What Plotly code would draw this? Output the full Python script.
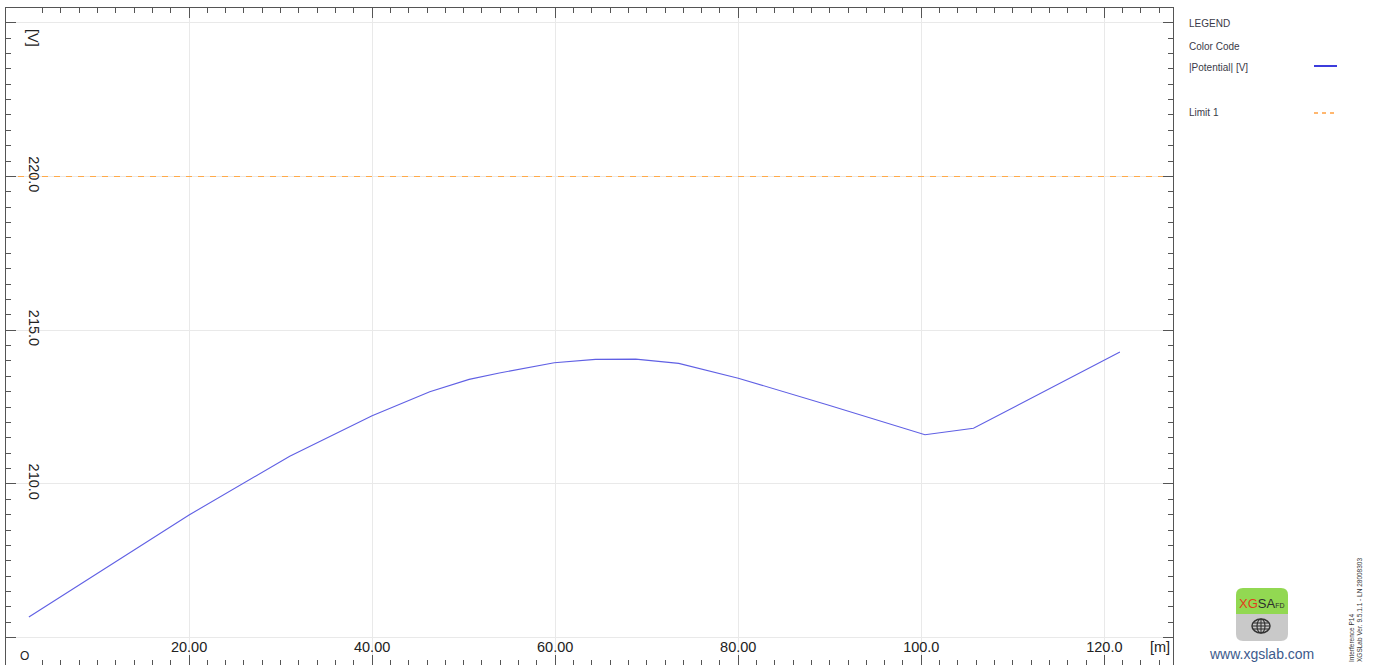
import plotly.graph_objects as go

# |Potential| profile along the path
distance_m = [2.5, 20.0, 31.0, 40.0, 46.3, 50.6, 53.9, 59.9, 64.4, 68.8, 73.5,
              80.0, 89.9, 100.4, 105.7, 121.7]
potential_v = [205.67, 208.99, 210.90, 212.22, 213.00, 213.40, 213.61, 213.94,
               214.05, 214.06, 213.92, 213.44, 212.56, 211.60, 211.81, 214.29]

limit_v = 220.0

x_tick_vals = [20, 40, 60, 80, 100, 120]
x_tick_text = ["20.00", "40.00", "60.00", "80.00", "100.0", "120.0"]
y_tick_vals = [205, 210, 215, 220, 225]
y_tick_text = ["", "210.0", "215.0", "220.0", ""]

W, H = 1373, 665
L, R, T, B = 6, 200, 8, 0
PW, PH = W - L - R, H - T - B


def px(x):
    return (x - L) / PW


def py(y):
    return (H - B - y) / PH


FRAME = "#555555"
GRID = "#e9e9e9"
TXT = "#3a3a48"
FONT = "Liberation Sans"

fig = go.Figure()
fig.add_trace(go.Scatter(x=distance_m, y=potential_v, mode="lines",
                         line=dict(color="#6060e4", width=1.1),
                         hoverinfo="x+y", showlegend=False))
fig.add_trace(go.Scatter(x=[0, 127.5], y=[limit_v, limit_v], mode="lines",
                         line=dict(color="#ffaa4a", width=1.2, dash="6px,6px"),
                         showlegend=False))

axis_common = dict(showline=True, linecolor=FRAME, linewidth=1, mirror="allticks",
                   ticks="inside", tickcolor=FRAME, tickwidth=1,
                   showgrid=True, gridcolor=GRID, gridwidth=1, zeroline=False,
                   ticklabelposition="inside",
                   tickfont=dict(family=FONT, size=14.5, color="#222222"))

fig.update_xaxes(range=[0, 127.5], tickmode="array", tickvals=x_tick_vals,
                 ticktext=x_tick_text, ticklen=10,
                 minor=dict(dtick=2, ticks="inside", ticklen=5, tickcolor=FRAME,
                            showgrid=False),
                 **axis_common)
fig.update_yaxes(range=[204.11, 225.48], tickmode="array", tickvals=y_tick_vals,
                 ticktext=y_tick_text, ticklen=10, tickangle=90,
                 ticklabelstandoff=10,
                 minor=dict(dtick=0.5, ticks="inside", ticklen=5, tickcolor=FRAME,
                            showgrid=False),
                 **axis_common)

ann = []
# axis units
ann.append(dict(text="[V]", x=px(33), y=py(38), textangle=90,
                font=dict(family=FONT, size=14.5, color="#222222")))
ann.append(dict(text="[m]", x=px(1160), y=py(647),
                font=dict(family=FONT, size=14.5, color="#222222")))
ann.append(dict(text="O", x=px(24), y=py(665), yanchor="bottom",
                font=dict(family=FONT, size=12, color="#222222")))

# legend panel
for txt, yy in [("LEGEND", 23), ("Color Code", 46), ("|Potential| [V]", 67),
                ("Limit 1", 112)]:
    ann.append(dict(text=txt, x=px(1187), y=py(yy), xanchor="left",
                    font=dict(family=FONT, size=10, color=TXT)))

# logo caption and version stamp
ann.append(dict(text="<span style='color:#e23c1c'>XG</span>"
                     "<span style='color:#2e2e2e'>SA</span>"
                     "<span style='color:#2e2e2e;font-size:7px'>FD</span>",
                x=px(1261), y=py(603), font=dict(family=FONT, size=13)))
ann.append(dict(text="www.xgslab.com", x=px(1261), y=py(654),
                font=dict(family=FONT, size=14, color="#3c5a8c")))
ann.append(dict(text="Interference P14<br>XGSLab Ver. 9.5.1.1 - LN 28008303",
                x=px(1355), y=py(664), yanchor="bottom", align="left",
                textangle=-90,
                font=dict(family=FONT, size=6.5, color="#333333")))

for a in ann:
    a.setdefault("xref", "paper")
    a.setdefault("yref", "paper")
    a.setdefault("showarrow", False)
    a.setdefault("xanchor", "center")
    a.setdefault("yanchor", "middle")

shapes = []
# legend line samples
shapes.append(dict(type="line", xref="paper", yref="paper",
                   x0=px(1314), x1=px(1337), y0=py(66), y1=py(66),
                   line=dict(color="#3c3cdc", width=2)))
shapes.append(dict(type="line", xref="paper", yref="paper",
                   x0=px(1314), x1=px(1337), y0=py(113), y1=py(113),
                   line=dict(color="#ffa040", width=1.5, dash="4px,4px")))


def rounded_half(x0, x1, y0, y1, r, top):
    # rounded corners only on the outer side of each half of the badge
    if top:
        pts = (f"M{px(x0)},{py(y1)} L{px(x0)},{py(y0 + r)} "
               f"Q{px(x0)},{py(y0)} {px(x0 + r)},{py(y0)} "
               f"L{px(x1 - r)},{py(y0)} Q{px(x1)},{py(y0)} {px(x1)},{py(y0 + r)} "
               f"L{px(x1)},{py(y1)} Z")
    else:
        pts = (f"M{px(x0)},{py(y0)} L{px(x0)},{py(y1 - r)} "
               f"Q{px(x0)},{py(y1)} {px(x0 + r)},{py(y1)} "
               f"L{px(x1 - r)},{py(y1)} Q{px(x1)},{py(y1)} {px(x1)},{py(y1 - r)} "
               f"L{px(x1)},{py(y0)} Z")
    return pts


shapes.append(dict(type="path", xref="paper", yref="paper",
                   path=rounded_half(1236, 1288, 588, 614, 7, True),
                   fillcolor="#92d852", line=dict(width=0)))
shapes.append(dict(type="path", xref="paper", yref="paper",
                   path=rounded_half(1236, 1288, 614, 641, 7, False),
                   fillcolor="#c9c9c9", line=dict(width=0)))
# globe icon
gx, gy, gr = 1261, 626, 9
shapes.append(dict(type="circle", xref="paper", yref="paper",
                   x0=px(gx - gr), x1=px(gx + gr), y0=py(gy + 7), y1=py(gy - 7),
                   line=dict(color="#333333", width=1.5)))
shapes.append(dict(type="circle", xref="paper", yref="paper",
                   x0=px(gx - 4), x1=px(gx + 4), y0=py(gy + 7), y1=py(gy - 7),
                   line=dict(color="#333333", width=1.2)))
for dy in (-3, 0, 3):
    half = 8.5 if dy == 0 else 7.5
    shapes.append(dict(type="line", xref="paper", yref="paper",
                       x0=px(gx - half), x1=px(gx + half), y0=py(gy + dy), y1=py(gy + dy),
                       line=dict(color="#333333", width=1.1)))
shapes.append(dict(type="line", xref="paper", yref="paper",
                   x0=px(gx), x1=px(gx), y0=py(gy - 7), y1=py(gy + 7),
                   line=dict(color="#333333", width=1.1)))

fig.update_layout(width=W, height=H, margin=dict(l=L, r=R, t=T, b=B),
                  paper_bgcolor="white", plot_bgcolor="white",
                  annotations=ann, shapes=shapes, showlegend=False)

fig.write_html("out.html")
